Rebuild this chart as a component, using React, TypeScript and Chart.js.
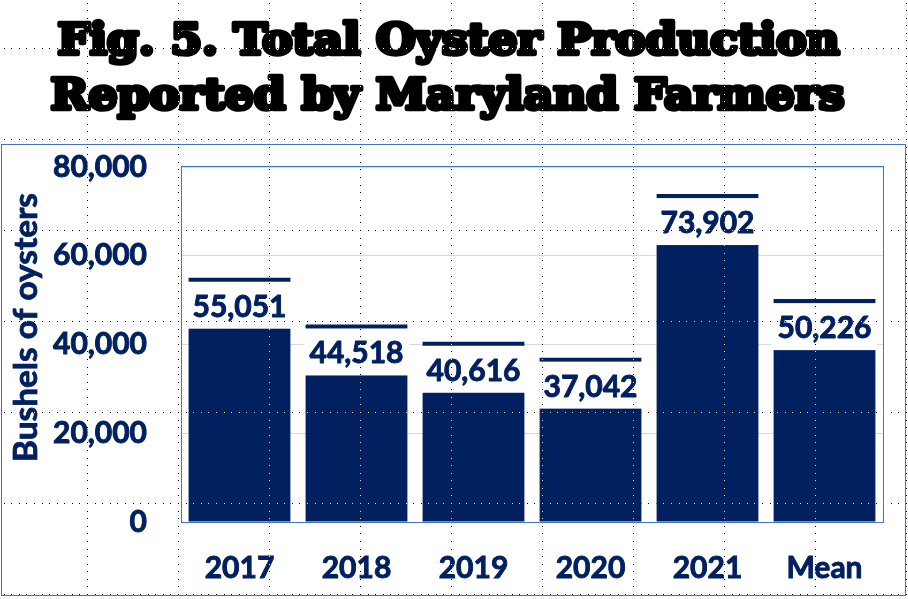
import React, { useEffect, useRef } from "react";
import { Chart, registerables } from "chart.js";

Chart.register(...registerables);

const categories = ["2017", "2018", "2019", "2020", "2021", "Mean"];
const production = [55051, 44518, 40616, 37042, 73902, 50226];
const yTickValues = [0, 20000, 40000, 60000, 80000];
const titleLines = ["Fig. 5. Total Oyster Production", "Reported by Maryland Farmers"];
const yAxisTitle = "Bushels of oysters";

const NAVY = "#002060";
const BLUE = "#4472C4";
const W = 908;
const H = 599;

const fmt = (v: number) => Number(v).toLocaleString("en-US");

const decorPlugin = {
  id: "decor",
  beforeDraw(chart: any) {
    const ctx = chart.ctx;
    ctx.save();
    ctx.fillStyle = "#ffffff";
    ctx.fillRect(0, 0, chart.width, chart.height);
    ctx.restore();
  },
  afterDatasetsDraw(chart: any) {
    const ctx = chart.ctx;
    const meta = chart.getDatasetMeta(0);
    ctx.save();
    meta.data.forEach((el: any, i: number) => {
      const top = el.y;
      ctx.fillStyle = "#ffffff";
      ctx.fillRect(el.x - el.width / 2 - 2, top + 4, el.width + 4, 47);
      ctx.fillStyle = NAVY;
      ctx.strokeStyle = NAVY;
      ctx.lineWidth = 0.9;
      ctx.lineJoin = "round";
      ctx.font = "bold 30px Lato";
      ctx.textAlign = "center";
      ctx.textBaseline = "alphabetic";
      ctx.strokeText(fmt(production[i]), el.x, top + 39);
      ctx.fillText(fmt(production[i]), el.x, top + 39);
    });
    ctx.restore();
  },
  afterDraw(chart: any) {
    const ctx = chart.ctx;
    const a = chart.chartArea;
    ctx.save();
    // plot border
    ctx.strokeStyle = BLUE;
    ctx.lineWidth = 1;
    ctx.strokeRect(Math.round(a.left) + 0.5, Math.round(a.top) - 0.5, Math.round(a.right - a.left), Math.round(a.bottom - a.top) + 1);
    // outer border
    ctx.strokeRect(1.5, 144.5, 904, 451);

    // title
    const drawFitted = (text: string, cx: number, base: number, targetW: number, px: number) => {
      ctx.save();
      ctx.font = `bold ${px}px "DejaVu Serif"`;
      const w = ctx.measureText(text).width;
      ctx.translate(cx, base);
      ctx.scale(targetW / w, 1);
      ctx.textAlign = "center";
      ctx.textBaseline = "alphabetic";
      ctx.lineJoin = "round";
      ctx.lineWidth = 4.5;
      ctx.strokeStyle = "#000";
      ctx.fillStyle = "#000";
      ctx.strokeText(text, 0, 0);
      ctx.fillText(text, 0, 0);
      ctx.restore();
    };
    drawFitted(titleLines[0], 448.5, 53.5, 782, 42);
    drawFitted(titleLines[1], 447.5, 108.5, 794, 43);

    // y axis title
    ctx.save();
    ctx.font = "bold 30px Lato";
    const tw = ctx.measureText(yAxisTitle).width;
    const px = Math.min(34, (30 * 269) / tw);
    ctx.font = `bold ${px}px Lato`;
    ctx.translate(37, 327.5);
    ctx.rotate(-Math.PI / 2);
    ctx.textAlign = "center";
    ctx.textBaseline = "alphabetic";
    ctx.fillStyle = NAVY;
    ctx.strokeStyle = NAVY;
    ctx.lineWidth = 0.8;
    ctx.strokeText(yAxisTitle, 0, 0);
    ctx.fillText(yAxisTitle, 0, 0);
    ctx.restore();

    // dotted layout grid
    ctx.globalCompositeOperation = "difference";
    ctx.fillStyle = "#ffffff";
    const seen = new Set<string>();
    const dot = (x: number, y: number) => {
      const rx = Math.round(x), ry = Math.round(y);
      if (rx < 0 || ry < 0 || rx >= W || ry >= H) return;
      const k = rx + "," + ry;
      if (seen.has(k)) return;
      seen.add(k);
      ctx.fillRect(rx, ry, 1, 1);
    };
    const step = 91 / 12;
    const xs: number[] = [];
    for (let x = 87; x < W; x += 91) xs.push(x);
    const ys: number[] = [];
    for (let y = 48; y < H; y += 91) ys.push(y);
    xs.forEach((x) => {
      for (let j = -10; j * step + 48 < H; j++) dot(x, 48 + j * step);
    });
    ys.forEach((y) => {
      for (let j = -15; j * step + 87 < W; j++) dot(87 + j * step, y);
    });
    ctx.restore();
  },
};

export default function App() {
  const ref = useRef<HTMLCanvasElement | null>(null);
  useEffect(() => {
    document.body.style.margin = "0";
    const canvas = ref.current;
    if (!canvas) return;
    const tickFont = { family: "Lato", size: 30, weight: "bold" as const };
    const chart = new Chart(canvas, {
      type: "bar",
      data: {
        labels: categories,
        datasets: [
          {
            data: production,
            backgroundColor: NAVY,
            borderWidth: 0,
            categoryPercentage: 1,
            barPercentage: 0.87,
          },
        ],
      },
      options: {
        animation: false,
        responsive: false,
        devicePixelRatio: 1,
        layout: { padding: { top: 167, right: 25, bottom: 0, left: 0 } },
        plugins: {
          legend: { display: false },
          tooltip: { enabled: false },
          title: { display: false },
        },
        scales: {
          x: {
            grid: { display: false, drawTicks: false },
            border: { display: false },
            ticks: {
              color: NAVY,
              font: tickFont,
              textStrokeColor: NAVY,
              textStrokeWidth: 0.9,
              padding: 28,
              maxRotation: 0,
              autoSkip: false,
            },
            afterFit: (s: any) => {
              s.height = 77;
            },
          },
          y: {
            min: 0,
            max: 80000,
            afterBuildTicks: (s: any) => {
              s.ticks = yTickValues.map((v) => ({ value: v }));
            },
            grid: { color: "#D9D9D9", lineWidth: 1, drawTicks: false },
            border: { display: false },
            ticks: {
              color: NAVY,
              font: tickFont,
              textStrokeColor: NAVY,
              textStrokeWidth: 0.9,
              padding: 34,
              callback: (v: any) => fmt(Number(v)),
            },
            afterFit: (s: any) => {
              s.width = 181;
            },
          },
        },
      },
      plugins: [decorPlugin],
    } as any);
    return () => chart.destroy();
  }, []);
  return (
    <div style={{ width: W, height: H, position: "relative" }}>
      <canvas ref={ref} width={W} height={H} style={{ display: "block" }} />
    </div>
  );
}
